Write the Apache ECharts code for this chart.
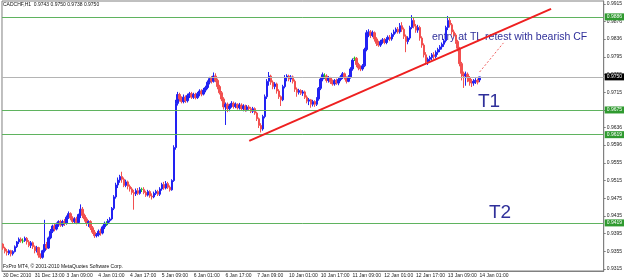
<!DOCTYPE html>
<html>
<head>
<meta charset="utf-8">
<script src="https://cdn.jsdelivr.net/npm/echarts@6/dist/echarts.min.js"></script>
<style>
  html, body { margin: 0; padding: 0; background: #fff; }
  #chart { width: 625px; height: 280px; }
</style>
</head>
<body>
<div id="chart"></div>
<script>
// CADCHF H1, one row per hour: [open, close, low, high]
var bars = [
  [0.9371,0.9362,0.9358,0.9373],[0.9362,0.9355,0.9350,0.9365],[0.9355,0.9352,0.9345,0.9360],[0.9350,0.9356,0.9346,0.9359],
  [0.9356,0.9349,0.9343,0.9358],[0.9349,0.9354,0.9345,0.9357],[0.9354,0.9365,0.9352,0.9368],[0.9365,0.9376,0.9362,0.9378],
  [0.9376,0.9382,0.9371,0.9386],[0.9382,0.9378,0.9374,0.9386],[0.9378,0.9378,0.9373,0.9384],[0.9379,0.9384,0.9376,0.9388],
  [0.9384,0.9376,0.9370,0.9387],[0.9376,0.9368,0.9364,0.9380],[0.9368,0.9374,0.9362,0.9378],[0.9374,0.9365,0.9360,0.9377],
  [0.9365,0.9356,0.9350,0.9368],[0.9356,0.9363,0.9352,0.9367],[0.9363,0.9346,0.9340,0.9365],[0.9346,0.9341,0.9337,0.9350],
  [0.9341,0.9356,0.9338,0.9358],[0.9356,0.9370,0.9352,0.9426],[0.9370,0.9362,0.9358,0.9376],[0.9362,0.9385,0.9360,0.9388],
  [0.9385,0.9400,0.9382,0.9405],[0.9400,0.9412,0.9396,0.9415],[0.9412,0.9405,0.9400,0.9418],[0.9405,0.9415,0.9402,0.9420],
  [0.9415,0.9422,0.9410,0.9425],[0.9422,0.9414,0.9410,0.9426],[0.9414,0.9422,0.9410,0.9426],[0.9422,0.9418,0.9412,0.9428],
  [0.9418,0.9432,0.9415,0.9436],[0.9432,0.9440,0.9428,0.9445],[0.9440,0.9430,0.9425,0.9443],[0.9430,0.9422,0.9418,0.9434],
  [0.9422,0.9428,0.9418,0.9432],[0.9428,0.9420,0.9416,0.9433],[0.9420,0.9438,0.9418,0.9440],[0.9438,0.9450,0.9430,0.9461],
  [0.9450,0.9436,0.9430,0.9455],[0.9436,0.9428,0.9422,0.9440],[0.9428,0.9418,0.9412,0.9432],[0.9418,0.9422,0.9410,0.9425],
  [0.9422,0.9408,0.9403,0.9425],[0.9408,0.9398,0.9394,0.9412],[0.9398,0.9390,0.9385,0.9403],[0.9390,0.9392,0.9386,0.9396],
  [0.9392,0.9400,0.9388,0.9404],[0.9400,0.9396,0.9390,0.9406],[0.9396,0.9410,0.9393,0.9413],[0.9410,0.9418,0.9405,0.9422],
  [0.9418,0.9418,0.9412,0.9423],[0.9418,0.9424,0.9414,0.9428],[0.9424,0.9428,0.9420,0.9432],[0.9428,0.9452,0.9425,0.9455],
  [0.9452,0.9478,0.9448,0.9482],[0.9478,0.9505,0.9474,0.9510],[0.9505,0.9516,0.9498,0.9522],[0.9516,0.9524,0.9510,0.9528],
  [0.9524,0.9518,0.9510,0.9535],[0.9518,0.9504,0.9500,0.9522],[0.9504,0.9512,0.9500,0.9517],[0.9512,0.9502,0.9495,0.9515],
  [0.9502,0.9496,0.9490,0.9506],[0.9496,0.9488,0.9483,0.9500],[0.9488,0.9485,0.9449,0.9494],[0.9485,0.9492,0.9480,0.9497],
  [0.9492,0.9486,0.9482,0.9498],[0.9486,0.9495,0.9483,0.9500],[0.9495,0.9495,0.9489,0.9499],[0.9495,0.9488,0.9484,0.9500],
  [0.9488,0.9482,0.9478,0.9492],[0.9482,0.9490,0.9479,0.9494],[0.9490,0.9480,0.9476,0.9493],[0.9480,0.9478,0.9472,0.9486],
  [0.9478,0.9486,0.9475,0.9490],[0.9486,0.9490,0.9482,0.9494],[0.9490,0.9484,0.9480,0.9494],[0.9484,0.9496,0.9480,0.9500],
  [0.9496,0.9506,0.9492,0.9510],[0.9506,0.9498,0.9494,0.9512],[0.9498,0.9508,0.9495,0.9514],[0.9508,0.9500,0.9496,0.9512],
  [0.9500,0.9494,0.9490,0.9504],[0.9494,0.9515,0.9492,0.9518],[0.9515,0.9590,0.9512,0.9595],[0.9590,0.9690,0.9585,0.9698],
  [0.9690,0.9710,0.9685,0.9716],[0.9710,0.9700,0.9694,0.9714],[0.9700,0.9694,0.9690,0.9706],[0.9694,0.9704,0.9690,0.9710],
  [0.9704,0.9696,0.9691,0.9708],[0.9696,0.9708,0.9692,0.9712],[0.9708,0.9712,0.9702,0.9716],[0.9712,0.9704,0.9700,0.9716],
  [0.9704,0.9710,0.9700,0.9714],[0.9710,0.9703,0.9699,0.9714],[0.9703,0.9712,0.9700,0.9716],[0.9712,0.9718,0.9706,0.9722],
  [0.9718,0.9711,0.9706,0.9722],[0.9711,0.9720,0.9708,0.9725],[0.9720,0.9726,0.9715,0.9730],[0.9726,0.9738,0.9722,0.9742],
  [0.9738,0.9746,0.9733,0.9750],[0.9746,0.9740,0.9735,0.9752],[0.9740,0.9752,0.9737,0.9760],[0.9752,0.9742,0.9738,0.9758],
  [0.9742,0.9728,0.9722,0.9746],[0.9728,0.9714,0.9710,0.9732],[0.9714,0.9700,0.9695,0.9718],[0.9700,0.9682,0.9676,0.9704],
  [0.9682,0.9688,0.9641,0.9692],[0.9688,0.9678,0.9670,0.9692],[0.9678,0.9684,0.9672,0.9689],[0.9684,0.9690,0.9680,0.9695],
  [0.9690,0.9683,0.9678,0.9694],[0.9683,0.9688,0.9679,0.9692],[0.9688,0.9680,0.9676,0.9690],[0.9680,0.9686,0.9676,0.9691],
  [0.9686,0.9678,0.9674,0.9690],[0.9678,0.9684,0.9672,0.9688],[0.9684,0.9676,0.9671,0.9687],[0.9676,0.9682,0.9672,0.9686],
  [0.9682,0.9678,0.9673,0.9686],[0.9678,0.9672,0.9668,0.9682],[0.9672,0.9678,0.9668,0.9682],[0.9678,0.9668,0.9664,0.9681],
  [0.9668,0.9655,0.9650,0.9671],[0.9655,0.9640,0.9634,0.9658],[0.9640,0.9632,0.9624,0.9645],[0.9632,0.9660,0.9628,0.9664],
  [0.9660,0.9705,0.9656,0.9710],[0.9705,0.9740,0.9700,0.9745],[0.9740,0.9752,0.9730,0.9761],[0.9752,0.9738,0.9732,0.9755],
  [0.9738,0.9728,0.9722,0.9742],[0.9728,0.9734,0.9722,0.9738],[0.9734,0.9718,0.9712,0.9737],[0.9718,0.9705,0.9700,0.9722],
  [0.9705,0.9698,0.9684,0.9708],[0.9698,0.9728,0.9695,0.9732],[0.9728,0.9748,0.9724,0.9754],[0.9748,0.9752,0.9740,0.9756],
  [0.9752,0.9745,0.9740,0.9755],[0.9745,0.9750,0.9738,0.9754],[0.9750,0.9740,0.9735,0.9753],[0.9740,0.9722,0.9716,0.9744],
  [0.9722,0.9715,0.9705,0.9726],[0.9715,0.9719,0.9710,0.9723],[0.9719,0.9713,0.9709,0.9722],[0.9713,0.9716,0.9707,0.9720],
  [0.9716,0.9704,0.9700,0.9719],[0.9704,0.9695,0.9690,0.9708],[0.9695,0.9698,0.9686,0.9702],[0.9698,0.9688,0.9680,0.9700],
  [0.9688,0.9694,0.9683,0.9698],[0.9694,0.9688,0.9682,0.9697],[0.9688,0.9700,0.9684,0.9704],[0.9700,0.9724,0.9696,0.9727],
  [0.9724,0.9745,0.9720,0.9750],[0.9745,0.9755,0.9740,0.9760],[0.9752,0.9752,0.9745,0.9758],[0.9752,0.9742,0.9737,0.9756],
  [0.9742,0.9748,0.9737,0.9752],[0.9748,0.9739,0.9734,0.9750],[0.9739,0.9734,0.9730,0.9744],[0.9734,0.9742,0.9730,0.9745],
  [0.9742,0.9736,0.9732,0.9746],[0.9736,0.9744,0.9731,0.9748],[0.9744,0.9750,0.9740,0.9754],[0.9750,0.9757,0.9745,0.9761],
  [0.9757,0.9748,0.9744,0.9760],[0.9748,0.9740,0.9735,0.9751],[0.9740,0.9750,0.9738,0.9754],[0.9750,0.9768,0.9746,0.9772],
  [0.9768,0.9788,0.9764,0.9792],[0.9792,0.9792,0.9786,0.9796],[0.9792,0.9778,0.9772,0.9795],[0.9778,0.9770,0.9765,0.9782],
  [0.9770,0.9768,0.9763,0.9776],[0.9768,0.9775,0.9764,0.9779],[0.9775,0.9812,0.9772,0.9816],[0.9812,0.9850,0.9808,0.9856],
  [0.9850,0.9852,0.9840,0.9858],[0.9852,0.9844,0.9838,0.9856],[0.9844,0.9850,0.9840,0.9855],[0.9850,0.9836,0.9830,0.9853],
  [0.9836,0.9826,0.9820,0.9840],[0.9826,0.9822,0.9818,0.9832],[0.9822,0.9830,0.9818,0.9834],[0.9830,0.9834,0.9825,0.9838],
  [0.9834,0.9828,0.9824,0.9838],[0.9828,0.9835,0.9824,0.9840],[0.9835,0.9840,0.9830,0.9844],[0.9840,0.9836,0.9831,0.9845],
  [0.9836,0.9846,0.9832,0.9850],[0.9846,0.9852,0.9841,0.9857],[0.9852,0.9858,0.9848,0.9862],[0.9858,0.9852,0.9848,0.9863],
  [0.9852,0.9866,0.9848,0.9872],[0.9866,0.9858,0.9852,0.9874],[0.9858,0.9842,0.9836,0.9862],[0.9842,0.9830,0.9806,0.9846],
  [0.9830,0.9838,0.9824,0.9842],[0.9838,0.9862,0.9834,0.9866],[0.9862,0.9878,0.9858,0.9890],[0.9878,0.9865,0.9860,0.9884],
  [0.9865,0.9856,0.9850,0.9870],[0.9856,0.9862,0.9850,0.9868],[0.9862,0.9838,0.9832,0.9866],[0.9838,0.9822,0.9816,0.9842],
  [0.9822,0.9800,0.9794,0.9826],[0.9800,0.9784,0.9778,0.9806],[0.9784,0.9790,0.9777,0.9794],[0.9790,0.9794,0.9785,0.9798],
  [0.9794,0.9800,0.9788,0.9804],[0.9800,0.9796,0.9790,0.9806],[0.9796,0.9806,0.9792,0.9810],[0.9806,0.9812,0.9800,0.9816],
  [0.9812,0.9818,0.9806,0.9822],[0.9818,0.9824,0.9812,0.9828],[0.9824,0.9832,0.9818,0.9836],[0.9832,0.9862,0.9828,0.9866],
  [0.9862,0.9878,0.9856,0.9888],[0.9878,0.9868,0.9862,0.9885],[0.9868,0.9852,0.9846,0.9872],[0.9852,0.9845,0.9840,0.9857],
  [0.9845,0.9830,0.9825,0.9849],[0.9830,0.9815,0.9808,0.9834],[0.9815,0.9780,0.9774,0.9818],[0.9780,0.9758,0.9742,0.9784],
  [0.9758,0.9752,0.9725,0.9762],[0.9752,0.9756,0.9730,0.9762],[0.9756,0.9748,0.9738,0.9760],[0.9748,0.9740,0.9730,0.9752],
  [0.9740,0.9736,0.9727,0.9745],[0.9736,0.9740,0.9730,0.9745],[0.9740,0.9742,0.9734,0.9747],[0.9742,0.9738,0.9733,0.9746],
  [0.9743,0.9750,0.9738,0.9750]
];

// time labels, one every 16 bars
var xLabels = ["30 Dec 2010", "31 Dec 13:00", "3 Jan 09:00", "4 Jan 01:00", "4 Jan 17:00", "5 Jan 09:00",
  "6 Jan 01:00", "6 Jan 17:00", "7 Jan 09:00", "10 Jan 01:00", "10 Jan 17:00", "11 Jan 09:00",
  "12 Jan 01:00", "12 Jan 17:00", "13 Jan 09:00", "14 Jan 01:00"];
var yTicks = [0.9915, 0.9876, 0.9836, 0.9795, 0.9755, 0.9715, 0.9675, 0.9636, 0.9596, 0.9555,
  0.9515, 0.9475, 0.9435, 0.9395, 0.9355, 0.9315];
var levels = [0.9886, 0.9675, 0.9619, 0.9419];
var bid = 0.9750;
var trendLine = [[124, 0.9605], [276, 0.9904]];
var entryArrow = [[240, 0.9761], [252, 0.9827]];

var slots = 303; // bars + empty space on the right (chart shift)
var cats = [];
for (var i = 0; i < slots; i++) cats.push(String(i));

var axisFont = '"Liberation Sans", Arial, sans-serif';
function labelAt(idx) { return idx % 16 === 0 && idx / 16 < xLabels.length; }

var chart = echarts.init(document.getElementById("chart"));
var levelLines = levels.map(function (v) {
  return {
    yAxis: v,
    lineStyle: { color: "#5fb35f", width: 1, type: "solid" },
    label: { backgroundColor: "#2f9a2f", color: "#fff" }
  };
});
levelLines.push({
  yAxis: bid,
  lineStyle: { color: "#b4b4b4", width: 1, type: "solid" },
  label: { backgroundColor: "#000", color: "#fff" }
});

chart.setOption({
  animation: false,
  backgroundColor: "#fff",
  grid: { left: 1, right: 17, top: 1, bottom: 9, show: true, borderColor: "#808080", borderWidth: 1 },
  xAxis: {
    type: "category",
    data: cats,
    boundaryGap: true,
    axisLine: { lineStyle: { color: "#808080" } },
    axisTick: { alignWithLabel: true, interval: function (i) { return labelAt(i); }, length: 2, lineStyle: { color: "#808080" } },
    axisLabel: {
      interval: function (i) { return labelAt(i); },
      formatter: function (v, i) { return xLabels[i / 16] || ""; },
      fontSize: 5, fontFamily: axisFont, color: "#222", align: "left", margin: 2
    },
    splitLine: { show: false }
  },
  yAxis: {
    type: "value",
    position: "right",
    min: 0.9310,
    max: 0.9922,
    scale: true,
    splitLine: { show: false },
    axisLine: { show: true, lineStyle: { color: "#808080" } },
    axisTick: { show: true, length: 2, customValues: yTicks, lineStyle: { color: "#808080" } },
    axisLabel: {
      customValues: yTicks,
      formatter: function (v) { return v.toFixed(4); },
      fontSize: 5, fontFamily: axisFont, color: "#222", margin: 3
    }
  },
  series: [
    {
      type: "candlestick",
      data: bars,
      barWidth: 2,
      itemStyle: {
        color: "#2222f2", color0: "#f25050",
        borderColor: "#2222f2", borderColor0: "#f25050",
        borderColorDoji: "#22c022", borderWidth: 1
      },
      markLine: {
        silent: true,
        precision: 4,
        symbol: ["none", "none"],
        label: { position: "end", distance: 1, fontSize: 5, fontFamily: axisFont, padding: [1, 2],
          formatter: function (p) { return p.value.toFixed(4); } },
        data: levelLines
      }
    },
    {
      type: "line",
      data: trendLine,
      symbol: "none",
      lineStyle: { color: "#ee2020", width: 2 },
      z: 5
    },
    {
      type: "line",
      data: entryArrow,
      symbol: "none",
      lineStyle: { color: "#f06060", width: 1, type: [2, 2] },
      z: 5
    }
  ],
  graphic: [
    { type: "text", left: 3, top: 2, style: { text: "CADCHF,H1  0.9743 0.9750 0.9738 0.9750", font: '5px "Liberation Sans"', fill: "#111" } },
    { type: "text", left: 3, top: 264, style: { text: "FxPro MT4, \u00a9 2001-2010 MetaQuotes Software Corp.", font: '5px "Liberation Sans"', fill: "#111" } },
    { type: "text", left: 432, top: 32, style: { text: "entry at TL retest with bearish CF", font: '10.5px "Liberation Sans"', fill: "#30309a" } },
    { type: "text", left: 478, top: 92, style: { text: "T1", font: '19px "Liberation Sans"', fill: "#30309a" } },
    { type: "text", left: 489, top: 203, style: { text: "T2", font: '19px "Liberation Sans"', fill: "#30309a" } }
  ]
});
</script>
</body>
</html>
